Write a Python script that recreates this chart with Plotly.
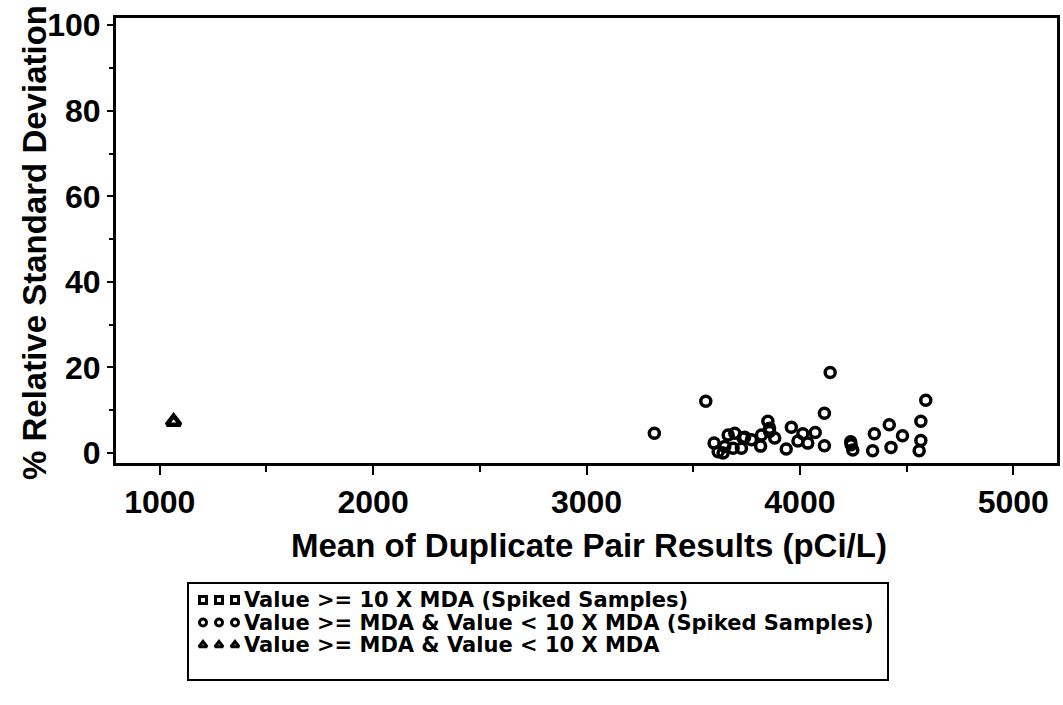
import plotly.graph_objects as go

W, H = 1063, 705

# ---- data ----
mean_circle = [3318, 3559, 3598, 3617, 3640, 3648, 3664, 3687, 3695, 3726,
               3734, 3741, 3773, 3816, 3820, 3850, 3858, 3858, 3882, 3936,
               3960, 3991, 4014, 4037, 4072, 4115, 4115, 4142, 4238, 4240,
               4248, 4341, 4349, 4419, 4427, 4481, 4559, 4567, 4567, 4590]
rsd_circle = [4.6, 12.1, 2.3, 0.3, 0.0, 1.5, 4.2, 1.1, 4.6, 1.1,
              3.5, 3.7, 3.1, 1.6, 4.2, 7.4, 5.8, 5.0, 3.5, 0.9,
              6.0, 2.8, 4.5, 2.3, 4.8, 9.3, 1.7, 18.8, 2.6, 1.9,
              0.7, 0.5, 4.5, 6.6, 1.3, 4.0, 0.5, 7.4, 2.9, 12.3]
mean_triangle = [1065]
rsd_triangle = [7.3]
mean_square = []
rsd_square = []

x_ticks = [1000, 2000, 3000, 4000, 5000]
y_ticks = [0, 20, 40, 60, 80, 100]

legend_labels = ["Value >= 10 X MDA (Spiked Samples)",
                 "Value >= MDA & Value < 10 X MDA (Spiked Samples)",
                 "Value >= MDA & Value < 10 X MDA"]
legend_symbols = ["square-open", "circle-open", "triangle-up-open"]

x_title = "Mean of Duplicate Pair Results (pCi/L)"
y_title = "% Relative Standard Deviation"

# ---- layout geometry (pixels) ----
PL, PR, PT, PB = 116, 1057, 18, 463
LB_L, LB_R, LB_T, LB_B = 188, 888, 583, 680

def fx(px):
    return px / W

def fy(py):
    return 1 - py / H

fig = go.Figure()

fig.add_trace(go.Scatter(
    x=mean_square, y=rsd_square, mode="markers", showlegend=False,
    marker=dict(symbol="square-open", size=10, color="black", line=dict(width=3.5, color="black"))))
fig.add_trace(go.Scatter(
    x=mean_circle, y=rsd_circle, mode="markers", showlegend=False,
    marker=dict(symbol="circle-open", size=10, color="black", line=dict(width=3.5, color="black"))))
fig.add_trace(go.Scatter(
    x=mean_triangle, y=rsd_triangle, mode="markers", showlegend=False,
    marker=dict(symbol="triangle-up-open", size=12, color="black", line=dict(width=4.5, color="black"))))

# ---- hand-built legend (three symbols per entry) ----
row_step = 22.5
col_step = 16
for i, (sym, lab) in enumerate(zip(legend_symbols, legend_labels)):
    ry = 17 + row_step * i
    fig.add_trace(go.Scatter(
        x=[15 + col_step * j for j in range(3)], y=[ry] * 3,
        xaxis="x2", yaxis="y2", mode="markers", showlegend=False, hoverinfo="skip",
        marker=dict(symbol=sym, size=7, color="black", line=dict(width=3, color="black"))))
    fig.add_annotation(x=54, y=ry, xref="x2", yref="y2", text=lab, showarrow=False,
                       xanchor="left", yanchor="middle",
                       font=dict(family="DejaVu Sans", size=21, color="black", weight="bold"))

fig.add_shape(type="rect", xref="paper", yref="paper",
              x0=fx(LB_L), x1=fx(LB_R), y0=fy(LB_B), y1=fy(LB_T),
              line=dict(color="black", width=2), fillcolor="rgba(0,0,0,0)")

tick_font = dict(family="Liberation Sans", size=32, color="black", weight="bold")

fig.update_layout(
    width=W, height=H,
    margin=dict(l=0, r=0, t=0, b=0),
    paper_bgcolor="white", plot_bgcolor="white",
    showlegend=False,
    xaxis=dict(domain=[fx(PL), fx(PR)], range=[795, 5205],
               tickvals=x_ticks, ticks="outside", ticklen=9, tickwidth=2, tickcolor="black",
               minor=dict(dtick=500, tick0=0, ticks="outside", ticklen=6, tickwidth=2, tickcolor="black"),
               showline=True, linewidth=3, linecolor="black", mirror=True,
               showgrid=False, zeroline=False, tickfont=tick_font, automargin=False),
    yaxis=dict(domain=[fy(PB), fy(PT)], range=[-2.35, 101.7],
               tickvals=y_ticks, ticks="outside", ticklen=6, tickwidth=2, tickcolor="black",
               minor=dict(dtick=10, tick0=0, ticks="outside", ticklen=4, tickwidth=2, tickcolor="black"),
               showline=True, linewidth=3, linecolor="black", mirror=True,
               showgrid=False, zeroline=False, tickfont=tick_font, automargin=False),
    xaxis2=dict(domain=[fx(LB_L), fx(LB_R)], range=[0, LB_R - LB_L], visible=False,
                anchor="y2", fixedrange=True),
    yaxis2=dict(domain=[fy(LB_B), fy(LB_T)], range=[LB_B - LB_T, 0], visible=False,
                anchor="x2", fixedrange=True),
)

fig.add_annotation(x=fx(589), y=fy(545), xref="paper", yref="paper",
                   text=x_title, showarrow=False, xanchor="center", yanchor="middle",
                   font=dict(family="Liberation Sans", size=33, color="black", weight="bold"))
fig.add_annotation(x=fx(35), y=fy(243), xref="paper", yref="paper",
                   text=y_title, showarrow=False, textangle=-90, xanchor="center", yanchor="middle",
                   font=dict(family="Liberation Sans", size=33, color="black", weight="bold"))

fig.write_html("out.html",
               config={"displayModeBar": False},
               post_script="document.body.style.margin='0';document.body.style.overflow='hidden';")
